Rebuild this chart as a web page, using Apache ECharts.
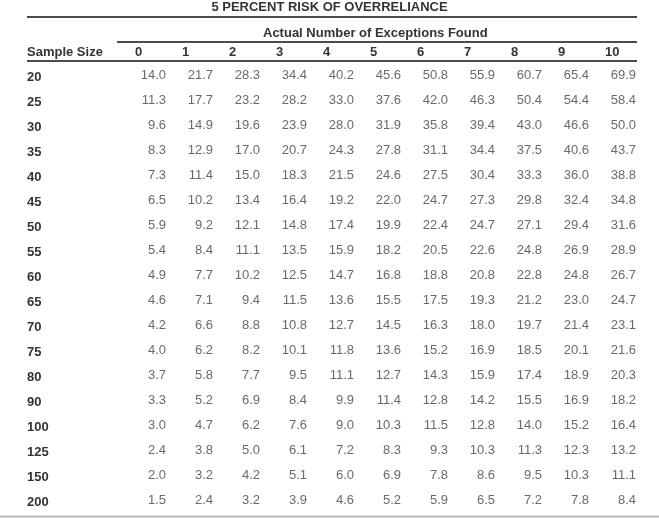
<!DOCTYPE html>
<html><head><meta charset="utf-8">
<script src="https://cdn.jsdelivr.net/npm/echarts@6/dist/echarts.min.js"></script>
<style>html,body{margin:0;padding:0;background:#fff}#c{width:659px;height:519px}</style>
</head><body><div id="c"></div>
<script>
const chartTitle = '5 PERCENT RISK OF OVERRELIANCE';
const columnGroupTitle = 'Actual Number of Exceptions Found';
const rowHeaderTitle = 'Sample Size';
const sampleSizes = ['20','25','30','35','40','45','50','55','60','65','70','75','80','90','100','125','150','200'];
const exceptionsFound = ['0','1','2','3','4','5','6','7','8','9','10'];

const r20  = [14.0, 21.7, 28.3, 34.4, 40.2, 45.6, 50.8, 55.9, 60.7, 65.4, 69.9];
const r25  = [11.3, 17.7, 23.2, 28.2, 33.0, 37.6, 42.0, 46.3, 50.4, 54.4, 58.4];
const r30  = [9.6, 14.9, 19.6, 23.9, 28.0, 31.9, 35.8, 39.4, 43.0, 46.6, 50.0];
const r35  = [8.3, 12.9, 17.0, 20.7, 24.3, 27.8, 31.1, 34.4, 37.5, 40.6, 43.7];
const r40  = [7.3, 11.4, 15.0, 18.3, 21.5, 24.6, 27.5, 30.4, 33.3, 36.0, 38.8];
const r45  = [6.5, 10.2, 13.4, 16.4, 19.2, 22.0, 24.7, 27.3, 29.8, 32.4, 34.8];
const r50  = [5.9, 9.2, 12.1, 14.8, 17.4, 19.9, 22.4, 24.7, 27.1, 29.4, 31.6];
const r55  = [5.4, 8.4, 11.1, 13.5, 15.9, 18.2, 20.5, 22.6, 24.8, 26.9, 28.9];
const r60  = [4.9, 7.7, 10.2, 12.5, 14.7, 16.8, 18.8, 20.8, 22.8, 24.8, 26.7];
const r65  = [4.6, 7.1, 9.4, 11.5, 13.6, 15.5, 17.5, 19.3, 21.2, 23.0, 24.7];
const r70  = [4.2, 6.6, 8.8, 10.8, 12.7, 14.5, 16.3, 18.0, 19.7, 21.4, 23.1];
const r75  = [4.0, 6.2, 8.2, 10.1, 11.8, 13.6, 15.2, 16.9, 18.5, 20.1, 21.6];
const r80  = [3.7, 5.8, 7.7, 9.5, 11.1, 12.7, 14.3, 15.9, 17.4, 18.9, 20.3];
const r90  = [3.3, 5.2, 6.9, 8.4, 9.9, 11.4, 12.8, 14.2, 15.5, 16.9, 18.2];
const r100 = [3.0, 4.7, 6.2, 7.6, 9.0, 10.3, 11.5, 12.8, 14.0, 15.2, 16.4];
const r125 = [2.4, 3.8, 5.0, 6.1, 7.2, 8.3, 9.3, 10.3, 11.3, 12.3, 13.2];
const r150 = [2.0, 3.2, 4.2, 5.1, 6.0, 6.9, 7.8, 8.6, 9.5, 10.3, 11.1];
const r200 = [1.5, 2.4, 3.2, 3.9, 4.6, 5.2, 5.9, 6.5, 7.2, 7.8, 8.4];

const rows = [r20, r25, r30, r35, r40, r45, r50, r55, r60, r65, r70, r75, r80, r90, r100, r125, r150, r200];

const cellData = [];
rows.forEach((row, ri) => {
  row.forEach((v, ci) => cellData.push([ci, ri, v]));
});

const FONT = '"Liberation Sans", Arial, Helvetica, sans-serif';
const chart = echarts.init(document.getElementById('c'), null, {renderer: 'canvas'});
chart.setOption({
  animation: false,
  backgroundColor: '#fff',
  textStyle: {fontFamily: FONT},
  title: [
    {text: chartTitle, left: 'center', top: 1, padding: 0,
     textStyle: {fontFamily: FONT, fontSize: 13, fontWeight: 'bold', color: '#333'}},
    {text: columnGroupTitle, left: 263, top: 27, padding: 0,
     textStyle: {fontFamily: FONT, fontSize: 13, fontWeight: 'bold', color: '#333'}},
    {text: rowHeaderTitle, left: 27, top: 46, padding: 0,
     textStyle: {fontFamily: FONT, fontSize: 13, fontWeight: 'bold', color: '#333'}}
  ],
  grid: [
    {left: 133.5, width: 517, top: 64.8, height: 450},
    {left: 111.5, width: 517, top: 64.8, height: 450}
  ],
  xAxis: [
    {type: 'category', gridIndex: 0, data: exceptionsFound, position: 'top',
     axisLine: {show: false}, axisTick: {show: false}, axisLabel: {show: false}, splitLine: {show: false}},
    {type: 'category', gridIndex: 1, data: exceptionsFound, position: 'top',
     axisLine: {show: false}, axisTick: {show: false}, splitLine: {show: false},
     axisLabel: {show: true, align: 'left', verticalAlign: 'middle', margin: 12,
       fontFamily: FONT, fontSize: 13, fontWeight: 'bold', color: '#333'}}
  ],
  yAxis: [
    {type: 'category', gridIndex: 0, data: sampleSizes, inverse: true,
     axisLine: {show: false}, axisTick: {show: false}, splitLine: {show: false},
     axisLabel: {show: true, align: 'left', margin: 106.5, verticalAlign: 'middle',
       fontFamily: FONT, fontSize: 13, fontWeight: 'bold', color: '#333'}},
    {type: 'category', gridIndex: 1, data: sampleSizes, inverse: true, show: false}
  ],
  series: [{
    type: 'scatter', xAxisIndex: 0, yAxisIndex: 0,
    data: cellData, symbolSize: 0.01, silent: true,
    label: {show: true, position: 'inside', align: 'right', verticalAlign: 'middle',
      offset: [9, -2], fontFamily: FONT, fontSize: 13, color: '#444',
      formatter: p => p.value[2].toFixed(1)}
  }],
  graphic: [
    {type: 'line', shape: {x1: 27, y1: 17, x2: 637, y2: 17}, style: {stroke: '#111', lineWidth: 1.5}},
    {type: 'line', shape: {x1: 117, y1: 42, x2: 637, y2: 42}, style: {stroke: '#111', lineWidth: 1.5}},
    {type: 'line', shape: {x1: 27, y1: 61, x2: 637, y2: 61}, style: {stroke: '#111', lineWidth: 1.5}},
    {type: 'line', shape: {x1: 0, y1: 516.5, x2: 659, y2: 516.5}, style: {stroke: '#bbb', lineWidth: 2}}
  ]
});
</script>
</body></html>
